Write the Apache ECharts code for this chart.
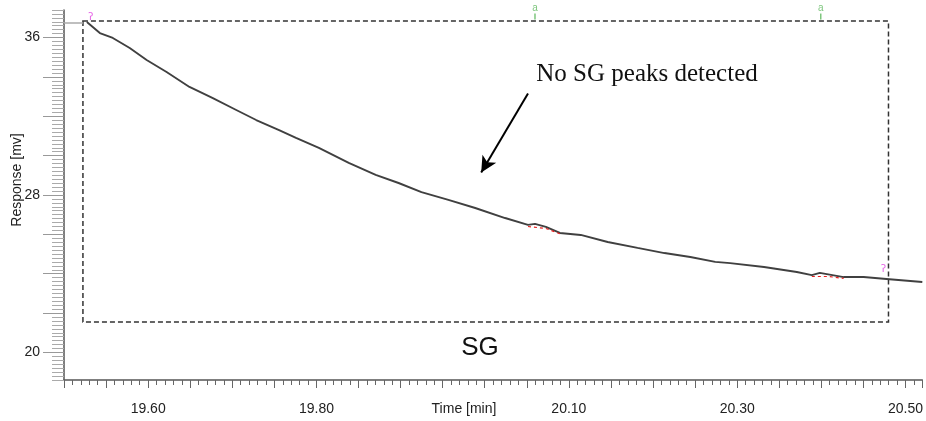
<!DOCTYPE html>
<html>
<head>
<meta charset="utf-8">
<script src="https://cdn.jsdelivr.net/npm/echarts@6/dist/echarts.min.js"></script>
<style>
	html, body { margin: 0; padding: 0; background: #fff; }
	#chart_sg { width: 926px; height: 421px; }
</style>
</head>
<body>
<div id="chart_sg"></div>
<script>
	// trace
	var timeMin = [19.5272, 19.5426, 19.5580, 19.5781, 19.5982, 19.6219, 19.6491, 19.6763, 19.7047, 19.7284,
		19.7556, 19.7757, 19.8029, 19.8384, 19.8704, 19.8976, 19.9248, 19.9568, 19.9887, 20.0242,
		20.0514, 20.0597, 20.0727, 20.0893, 20.1141, 20.1461, 20.1816, 20.2135, 20.2443, 20.2739,
		20.2916, 20.3319, 20.3709, 20.3887, 20.3982, 20.4265, 20.4502, 20.4774, 20.5200];
	var response = [36.79, 36.23, 35.98, 35.47, 34.86, 34.25, 33.49, 32.93, 32.32, 31.81,
		31.30, 30.90, 30.39, 29.63, 29.02, 28.61, 28.15, 27.75, 27.34, 26.83,
		26.48, 26.53, 26.38, 26.07, 25.97, 25.61, 25.31, 25.05, 24.85, 24.60,
		24.54, 24.34, 24.09, 23.93, 24.04, 23.83, 23.83, 23.73, 23.58];

	// baseline lead-in at the top left
	var leadTime = [19.50, 19.5225];
	var leadResp = [36.74, 36.74];

	// red integration marks under the curve
	var redTime = [20.0514, 20.0727, 20.0893, null, 20.3887, 20.4088, 20.4265];
	var redResp = [26.40, 26.30, 26.03, null, 23.86, 23.86, 23.76];

	// green event labels on top, magenta baseline marks
	var eventTime = [20.0597, 20.3993];
	var eventResp = [37.22, 37.22];
	var baseTime = [19.5319, 20.4738];
	var baseResp = [37.00, 24.20];

	// dashed SG window
	var windowTime = [19.5225, 20.4798];
	var windowResp = [21.55, 36.84];

	// arrow pointing at the trace
	var arrowTime = [20.0514, 19.9958];
	var arrowResp = [33.16, 29.14];

	// axes
	var xMin = 19.50, xMax = 20.52;
	var yMin = 18.6, yMax = 37.4;
	var xLabels = [19.60, 19.80, 20.10, 20.30, 20.50];
	var yMajor = [20, 22, 24, 26, 28, 30, 32, 34, 36];
	var yLabels = [20, 28, 36];

	function pairs(a, b) {
		var out = [];
		for (var i = 0; i < a.length; i++) {
			out.push(a[i] === null ? '-' : [a[i], b[i]]);
		}
		return out;
	}

	var option = {
		animation: false,
		grid: {
			left: 64,
			right: 0,
			top: 10,
			bottom: 41
		},
		xAxis: {
			type: 'value',
			min: xMin,
			max: xMax,
			interval: 0.05,
			axisLine: { lineStyle: { color: '#555', width: 1.5 } },
			axisTick: { length: 8, lineStyle: { color: '#666' } },
			minorTick: { show: true, splitNumber: 5, length: 5, lineStyle: { color: '#666' } },
			splitLine: { show: false },
			axisLabel: {
				customValues: xLabels,
				formatter: function(v) { return v.toFixed(2); },
				margin: 22,
				fontSize: 14,
				fontFamily: 'Liberation Sans, Arial',
				color: '#222'
			}
		},
		yAxis: [{
				type: 'value',
				min: yMin,
				max: yMax,
				interval: 0.2,
				axisLine: { show: true, lineStyle: { color: '#555', width: 1.5 } },
				axisTick: { length: 12, lineStyle: { color: '#aaa' } },
				axisLabel: { show: false },
				splitLine: { show: false }
			},
			{
				type: 'value',
				min: yMin,
				max: yMax,
				position: 'left',
				axisLine: { show: false },
				axisTick: { show: true, customValues: yMajor, length: 21, lineStyle: { color: '#999' } },
				axisLabel: {
					customValues: yLabels,
					margin: 24,
					fontSize: 14,
					fontFamily: 'Liberation Sans, Arial',
					color: '#222'
				},
				splitLine: { show: false }
			}
		],
		graphic: [{
				type: 'text',
				x: 17,
				y: 180,
				rotation: Math.PI / 2,
				style: {
					text: 'Response [mv]',
					font: '14px "Liberation Sans", Arial',
					fill: '#222',
					textAlign: 'center',
					textVerticalAlign: 'middle',
					align: 'center',
					verticalAlign: 'middle'
				}
			},
			{
				type: 'text',
				x: 464,
				y: 409,
				style: {
					text: 'Time [min]',
					font: '14px "Liberation Sans", Arial',
					fill: '#222',
					textAlign: 'center',
					textVerticalAlign: 'middle',
					align: 'center',
					verticalAlign: 'middle'
				}
			},
			{
				type: 'text',
				x: 480,
				y: 348,
				style: {
					text: 'SG',
					font: '26px "Liberation Sans", Arial',
					fill: '#111',
					textAlign: 'center',
					textVerticalAlign: 'middle',
					align: 'center',
					verticalAlign: 'middle'
				}
			},
			{
				type: 'text',
				x: 647,
				y: 74,
				style: {
					text: 'No SG peaks detected',
					font: '25px "Liberation Serif", "Times New Roman"',
					fill: '#111',
					textAlign: 'center',
					textVerticalAlign: 'middle',
					align: 'center',
					verticalAlign: 'middle'
				}
			}
		],
		series: [{
				name: 'trace',
				type: 'line',
				showSymbol: false,
				z: 3,
				lineStyle: { color: '#404040', width: 1.9 },
				data: pairs(timeMin, response),
				markArea: {
					silent: true,
					itemStyle: {
						color: 'rgba(0,0,0,0)',
						borderColor: '#333',
						borderWidth: 1.5,
						borderType: [5, 3]
					},
					data: [
						[{ coord: [windowTime[0], windowResp[1]] }, { coord: [windowTime[1], windowResp[0]] }]
					]
				},
				markLine: {
					silent: true,
					symbol: ['none', 'arrow'],
					symbolSize: [12, 16],
					label: { show: false },
					lineStyle: { color: '#000', width: 2, type: 'solid' },
					data: [
						[{ coord: [arrowTime[0], arrowResp[0]] }, { coord: [arrowTime[1], arrowResp[1]] }]
					]
				}
			},
			{
				name: 'lead',
				type: 'line',
				showSymbol: false,
				lineStyle: { color: '#aaa', width: 1.5 },
				data: pairs(leadTime, leadResp)
			},
			{
				name: 'integration',
				type: 'line',
				showSymbol: false,
				connectNulls: false,
				z: 4,
				lineStyle: { color: '#e82020', width: 1.2, type: [3, 3] },
				data: pairs(redTime, redResp)
			},
			{
				name: 'events',
				type: 'scatter',
				symbol: 'rect',
				symbolSize: [1.5, 6],
				symbolOffset: [0, 3],
				itemStyle: { color: '#5cb85c' },
				label: {
					show: true,
					formatter: 'a',
					position: 'top',
					distance: 0,
					fontSize: 10,
					color: '#5cb85c'
				},
				data: pairs(eventTime, eventResp)
			},
			{
				name: 'baseline',
				type: 'scatter',
				symbolSize: 0,
				label: {
					show: true,
					formatter: 'ʔ',
					position: 'inside',
					fontSize: 10,
					fontFamily: 'DejaVu Sans',
					color: '#e040e0'
				},
				data: pairs(baseTime, baseResp)
			}
		]
	};

	var myChart = echarts.init(document.getElementById('chart_sg'));
	myChart.setOption(option);
</script>
</body>
</html>
